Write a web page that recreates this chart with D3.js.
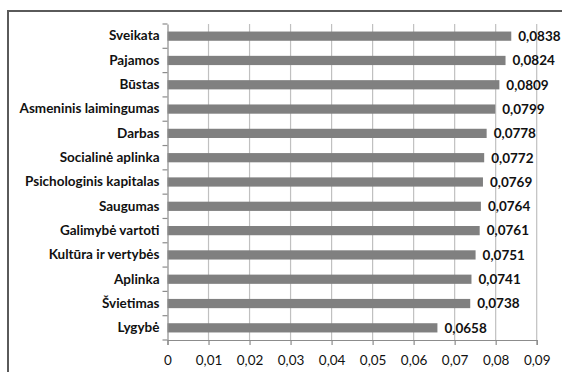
<!DOCTYPE html>
<html><head><meta charset="utf-8">
<script src="https://cdn.jsdelivr.net/npm/d3@7"></script>
<style>body{margin:0;background:#fff}svg{display:block}</style>
</head><body>
<svg id="c" width="562" height="372"></svg>
<script>
const categories = ["Sveikata","Pajamos","Būstas","Asmeninis laimingumas","Darbas","Socialinė aplinka","Psichologinis kapitalas","Saugumas","Galimybė vartoti","Kultūra ir vertybės","Aplinka","Švietimas","Lygybė"];
const values = [0.0838,0.0824,0.0809,0.0799,0.0778,0.0772,0.0769,0.0764,0.0761,0.0751,0.0741,0.0738,0.0658];
const xTicks = [0,0.01,0.02,0.03,0.04,0.05,0.06,0.07,0.08,0.09];

(function(){
const svg = d3.select("#c");
const fmt = v => String(v).replace(".", ",");
const fmtVal = v => v.toFixed(4).replace(".", ",");
const font = "Lato, 'Open Sans', sans-serif";

svg.append("rect").attr("x",8).attr("y",11).attr("width",600).attr("height",400)
  .attr("fill","none").attr("stroke","#5a5a5a").attr("stroke-width",2);

const pl = 167.5, pr = 536.7, pt = 24, pb = 340;
const x = d3.scaleLinear().domain([0,0.09]).range([pl,pr]);
const y = d3.scaleBand().domain(categories).range([pt,pb]).paddingInner(0.62).paddingOuter(0.31);
const yb = d3.scaleBand().domain(categories).range([pt,pb]);

svg.append("g").selectAll("line").data(xTicks.slice(1)).join("line")
  .attr("x1",d=>x(d)).attr("x2",d=>x(d)).attr("y1",pt).attr("y2",pb)
  .attr("stroke","#c0c0c0").attr("stroke-width",1.2);

svg.append("g").selectAll("rect").data(values).join("rect")
  .attr("x",x(0)).attr("y",(d,i)=>y(categories[i]))
  .attr("width",d=>x(d)-x(0)).attr("height",y.bandwidth())
  .attr("fill","#808080");

svg.append("g").selectAll("text").data(values).join("text")
  .attr("x",d=>x(d)+7).attr("y",(d,i)=>y(categories[i])+y.bandwidth()/2)
  .attr("dy","0.36em").attr("font-family",font).attr("font-weight","bold")
  .attr("font-size",13.5).attr("fill","#111").text(d=>fmtVal(d));

const xa = svg.append("g").attr("transform",`translate(0,${pb})`)
  .call(d3.axisBottom(x).tickValues(xTicks).tickFormat(fmt).tickSize(5).tickPadding(10));
xa.selectAll("path,line").attr("stroke","#8c8c8c").attr("stroke-width",1.2);
xa.selectAll("text").attr("font-family",font).attr("font-size",13.5).attr("fill","#111");

const ya = svg.append("g").attr("transform",`translate(${pl},0)`)
  .call(d3.axisLeft(y).tickSize(0).tickPadding(8));
ya.select("path").attr("stroke","#8c8c8c").attr("stroke-width",1.2);
ya.selectAll("text").attr("font-family",font).attr("font-weight","bold").attr("font-size",13.5).attr("fill","#111");
const bounds = categories.map(c=>yb(c)).concat([pb]);
svg.append("g").selectAll("line").data(bounds).join("line")
  .attr("x1",pl-5).attr("x2",pl).attr("y1",d=>d).attr("y2",d=>d)
  .attr("stroke","#8c8c8c").attr("stroke-width",1.2);
})();
</script>
</body></html>
